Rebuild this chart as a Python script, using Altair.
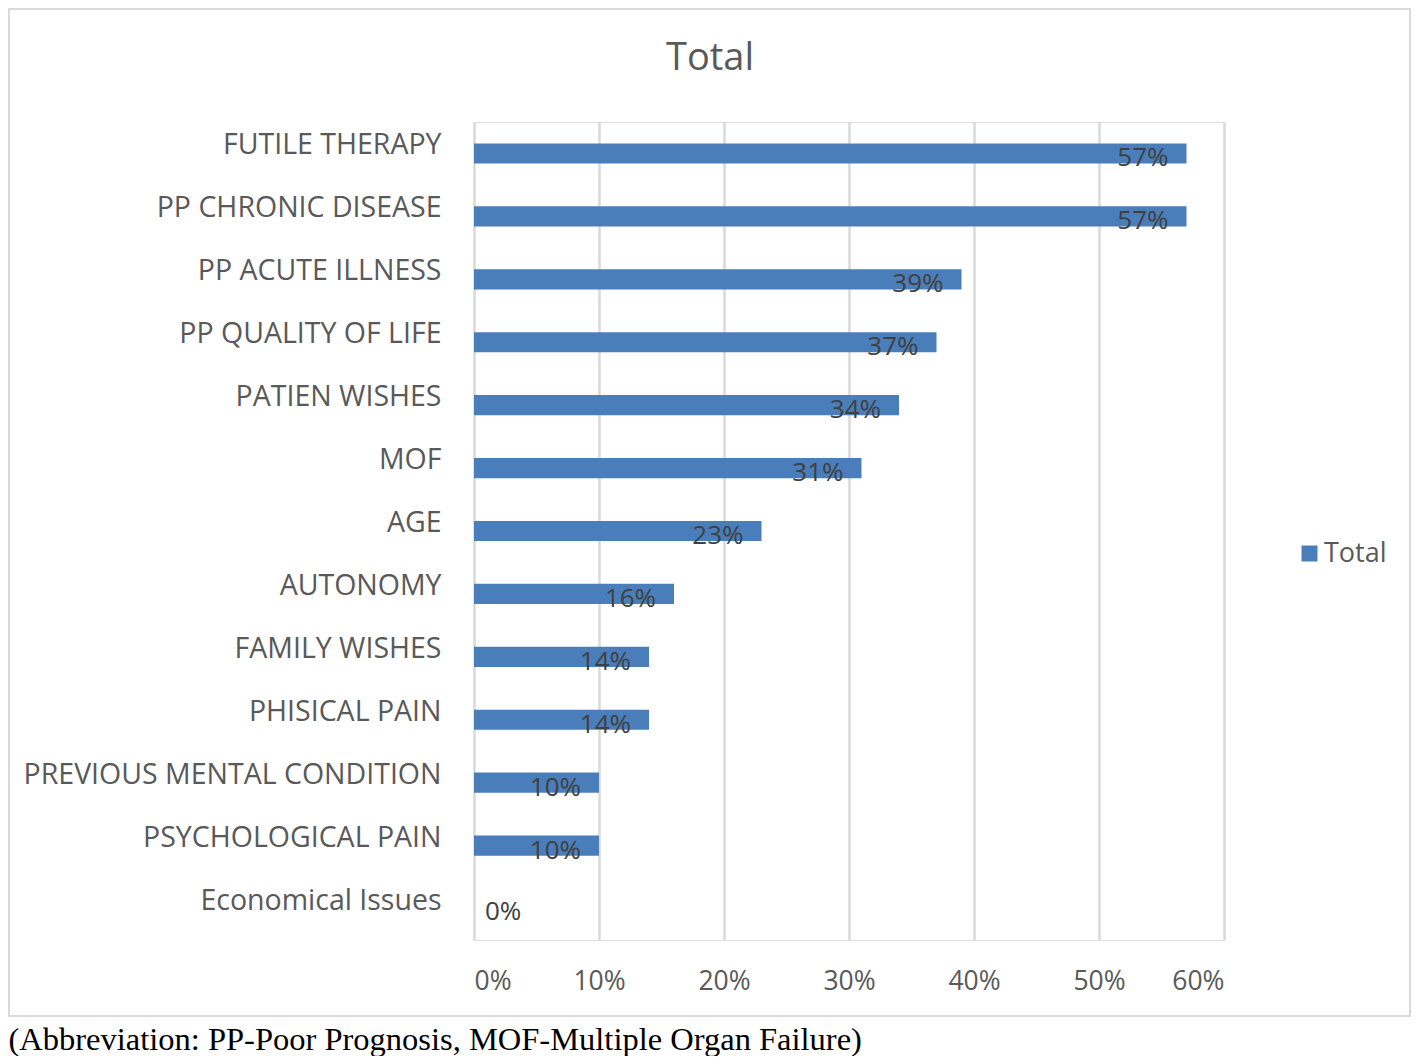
import altair as alt
import pandas as pd

categories = ["FUTILE THERAPY", "PP CHRONIC DISEASE", "PP ACUTE ILLNESS", "PP QUALITY OF LIFE",
              "PATIEN WISHES", "MOF", "AGE", "AUTONOMY", "FAMILY WISHES", "PHISICAL PAIN",
              "PREVIOUS MENTAL CONDITION", "PSYCHOLOGICAL PAIN", "Economical Issues"]
values = [0.57, 0.57, 0.39, 0.37, 0.34, 0.31, 0.23, 0.16, 0.14, 0.14, 0.10, 0.10, 0.0]
series = ["Total"] * len(categories)
x_ticks = [0, 0.1, 0.2, 0.3, 0.4, 0.5, 0.6]

df = pd.DataFrame({"cat": categories, "val": values, "series": series})

FONT = "Open Sans"
BAR = "#4A7EBB"
GRAY = "#595959"

y_enc = alt.Y("cat:N", sort=categories,
              scale=alt.Scale(paddingInner=0.68, paddingOuter=0.34),
              axis=alt.Axis(title=None, domain=False, ticks=False, grid=False,
                            labelFont=FONT, labelFontSize=28.5, labelColor=GRAY,
                            labelPadding=33, labelOffset=-8, labelLimit=600,
                            labelBaseline="middle"))
x_enc = alt.X("val:Q", scale=alt.Scale(domain=[0, 0.6], nice=False),
              axis=alt.Axis(values=x_ticks, format=".0%", domain=False, ticks=False,
                            grid=True, gridColor="#d9d9d9", gridWidth=2.5,
                            labelFont=FONT, labelFontSize=26.5, labelColor=GRAY,
                            labelPadding=28,
                            title="(Abbreviation: PP-Poor Prognosis, MOF-Multiple Organ Failure)",
                            titleFont="Liberation Serif", titleFontSize=32.5,
                            titleFontWeight="normal", titleColor="#000000",
                            titleAnchor="start", titleAlign="left", titleX=-466, titleY=109,
                            titleBaseline="alphabetic"))

bars = alt.Chart(df).mark_bar(color=BAR).encode(
    x=x_enc, y=y_enc,
    color=alt.Color("series:N", scale=alt.Scale(domain=["Total"], range=[BAR]),
                    legend=alt.Legend(title=None, orient="none", legendX=822, legendY=418,
                                      symbolType="square", symbolSize=256,
                                      symbolStrokeWidth=0,
                                      labelFont=FONT, labelFontSize=27, labelColor=GRAY,
                                      labelOffset=1))
)

labels_in = alt.Chart(df).transform_filter("datum.val > 0").mark_text(
    align="right", baseline="middle", dx=-18, dy=5, font=FONT, fontSize=26, color="#404040"
).encode(x="val:Q", y=alt.Y("cat:N", sort=categories), text=alt.Text("val:Q", format=".0%"))

labels_out = alt.Chart(df).transform_filter("datum.val <= 0").mark_text(
    align="left", baseline="middle", dx=11, dy=3, font=FONT, fontSize=26, color="#404040"
).encode(x="val:Q", y=alt.Y("cat:N", sort=categories), text=alt.Text("val:Q", format=".0%"))

border = alt.Chart(pd.DataFrame({"a": [0]})).mark_rect(
    fillOpacity=0, stroke="#d9d9d9", strokeWidth=2
).encode(x=alt.value(-465), x2=alt.value(936), y=alt.value(-113), y2=alt.value(894))

chart = alt.layer(border, bars, labels_in, labels_out).properties(
    width=750, height=818,
    title=alt.TitleParams("Total", font=FONT, fontSize=38, color=GRAY, fontWeight="normal",
                          anchor="middle", frame="group", dx=-139, offset=-100,
                          baseline="alphabetic"),
    autosize=alt.AutoSizeParams(type="none"),
    padding={"left": 466, "right": 188, "top": 114, "bottom": 116},
).configure_view(stroke="transparent", strokeWidth=0, strokeOpacity=0
).configure_axis(domain=False, ticks=False
).configure(background="white")

chart.save("out.html", embed_options={"renderer": "svg", "actions": False})
